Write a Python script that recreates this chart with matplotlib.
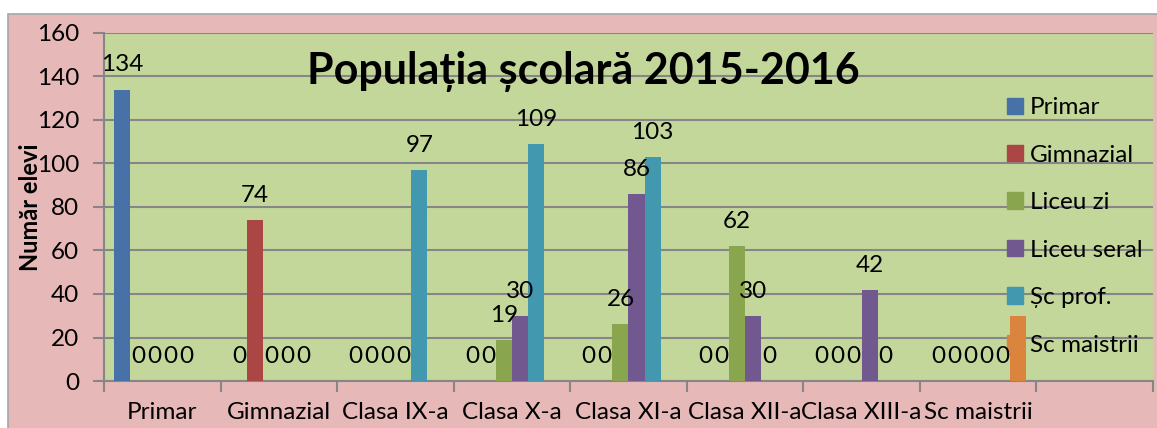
import numpy as np
import matplotlib.pyplot as plt
from matplotlib.patches import Rectangle, Patch

plt.rcParams['font.family'] = ['Lato', 'DejaVu Sans']

# date
categorii = ['Primar', 'Gimnazial', 'Clasa IX-a', 'Clasa X-a', 'Clasa XI-a',
             'Clasa XII-a', 'Clasa XIII-a', 'Sc maistrii', '']
serii = ['Primar', 'Gimnazial', 'Liceu zi', 'Liceu seral', 'Șc prof.', 'Sc maistrii']
nan = np.nan
primar = [134, 0, 0, 0, 0, 0, 0, 0, nan]
gimnazial = [0, 74, 0, 0, 0, 0, 0, 0, nan]
liceu_zi = [0, 0, 0, 19, 26, 62, 0, 0, nan]
liceu_seral = [0, 0, 0, 30, 86, 30, 42, 0, nan]
sc_prof = [0, 0, 97, 109, 103, 0, 0, 0, nan]
sc_maistrii = [nan, nan, nan, nan, nan, nan, nan, 30, nan]
valori = [primar, gimnazial, liceu_zi, liceu_seral, sc_prof, sc_maistrii]
culori = ['#4672A8', '#AA4643', '#89A54E', '#71588F', '#4198AF', '#DB843D']
cu_etichete = [True, True, True, True, True, False]

W, H = 1157, 428
fs = 17.5
fig = plt.figure(figsize=(W / 100, H / 100), dpi=100)
fig.patch.set_facecolor('white')
# fundal roz
fig.patches.append(Rectangle((8 / W, -0.1), 1, 1.1 - 14 / H, transform=fig.transFigure,
                             facecolor='#E6B9B8', edgecolor='#A6A6A6', lw=1.2, zorder=-1))

ax = fig.add_axes([104 / W, 1 - 381 / H, (1153 - 104) / W, (381 - 33) / H])
ax.set_facecolor('#C4D79B')

x = np.arange(len(categorii))
w = 16 / 116.5
for j, (vals, c) in enumerate(zip(valori, culori)):
    xs = x + (j - 2.5) * w
    ax.bar(xs, vals, width=w, color=c, zorder=3)
    if not cu_etichete[j]:
        continue
    for xi, v in zip(xs, vals):
        if np.isnan(v):
            continue
        ax.annotate(f'{v:g}', (xi, v), xytext=(0, 13), textcoords='offset points',
                    ha='center', va='baseline', fontsize=fs, zorder=4)

ax.set_xlim(-0.5, len(categorii) - 0.5)
ax.set_ylim(0, 160)
ax.set_yticks(np.arange(0, 161, 20))
ax.grid(axis='y', color='#868686', lw=1.5, zorder=1)
ax.set_axisbelow(True)

ax.set_xticks(x)
ax.set_xticklabels(categorii, fontsize=fs)
ax.set_xticks(np.arange(len(categorii) + 1) - 0.5, minor=True)
ax.tick_params(axis='x', which='major', length=0, pad=15)
ax.tick_params(axis='x', which='minor', length=8, width=1.5, color='#868686')
ax.tick_params(axis='y', length=8, width=1.5, color='#868686', labelsize=fs, pad=10)

for s in ['top', 'right']:
    ax.spines[s].set_visible(False)
for s in ['left', 'bottom']:
    ax.spines[s].set_color('#868686')
    ax.spines[s].set_linewidth(1.5)

ax.set_ylabel('Număr elevi', fontsize=17, fontweight='bold')
ax.yaxis.set_label_coords(-62 / (1153 - 104), 0.5)

fig.text(583 / W, 1 - 72 / H, 'Populația școlară 2015-2016', fontsize=31,
         fontweight='bold', ha='center', va='center')

handles = [Patch(color=c) for c in culori]
leg = ax.legend(handles, serii, loc='upper left', bbox_to_anchor=(995 / W, 1 - 85 / H),
                bbox_transform=fig.transFigure, frameon=False, fontsize=fs,
                handlelength=0.65, handleheight=0.65, handletextpad=0.3,
                labelspacing=1.09, borderpad=0)
leg.set_zorder(2)

fig.savefig('out.png', dpi=100)
